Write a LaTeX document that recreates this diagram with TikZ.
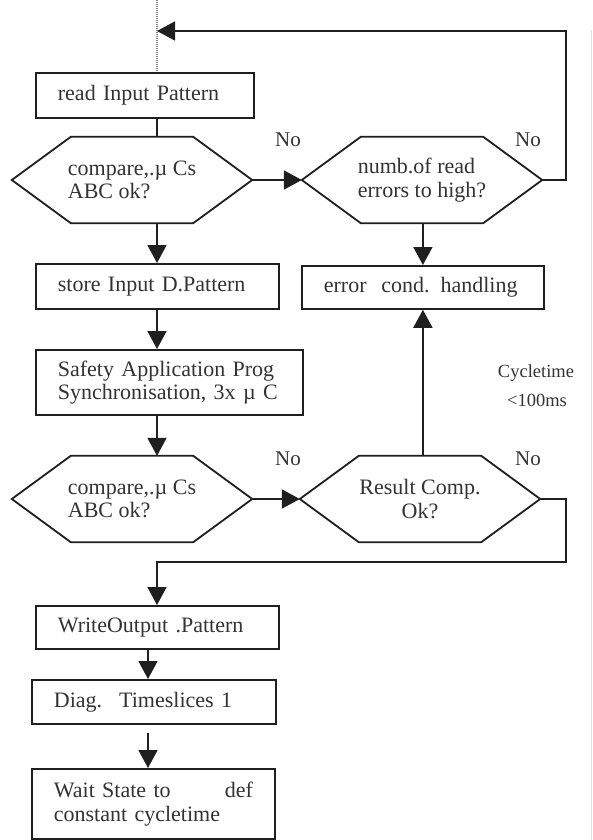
\documentclass[tikz,border=0pt]{standalone}
\usepackage{fontspec}
\setmainfont{Liberation Serif}
\usetikzlibrary{arrows.meta}
\newcommand{\myhexshape}[1]{\draw[ln] (#1.west) -- ([xshift=59pt]#1.north west) -- ([xshift=-59pt]#1.north east) -- (#1.east) -- ([xshift=-59pt]#1.south east) -- ([xshift=59pt]#1.south west) -- cycle;}
\begin{document}
\begin{tikzpicture}[x=1pt,y=-1pt,
  ln/.style={line width=1.8pt, draw=black!88},
  arr/.style={ln, -{Triangle[width=19pt,length=18pt]}},
  txt/.style={text=black!80, font=\fontsize{22pt}{23.5pt}\selectfont},
  box/.style={ln, txt, anchor=north west, align=left, inner xsep=22pt, inner ysep=0pt},
  hexn/.style={txt, minimum width=240pt, minimum height=86pt, inner sep=0pt, align=left},
  lbl/.style={text=black!80, font=\fontsize{21pt}{23pt}\selectfont, inner sep=0pt},
  small/.style={text=black!80, font=\fontsize{18.5pt}{20pt}\selectfont, inner sep=0pt}]
\useasboundingbox (0,0) rectangle (593,840);
\fill[white] (0,0) rectangle (593,840);

% guide coordinates
\coordinate (top) at (157,0);
\coordinate (spine) at (157,0);
\coordinate (spine2) at (148,0);
\coordinate (rx) at (566,0);
\coordinate (entry) at (157,31);
\coordinate (loopy) at (0,562);
\coordinate (d5) at (148,733);
\coordinate (edgeA) at (591,30);
\coordinate (edgeB) at (591,840);

% boxes
\node[box, text width=174pt, minimum height=45pt] (b1) at (35,72) {read Input Pattern};
\node[box, text width=199pt, minimum height=45pt] (b2) at (35,263) {store Input D.Pattern};
\node[box, text width=223pt, minimum height=65pt] (b3) at (35,349) {Safety Application Prog\\Synchronisation, 3x µ C};
\node[box, text width=198pt, minimum height=43pt] (err) at (301,265) {error\ \ cond. handling};
\node[box, text width=199pt, minimum height=43pt] (b4) at (35,605) {WriteOutput .Pattern};
\node[box, text width=200pt, minimum height=44pt] (b5) at (31,679) {Diag.\hspace{17pt}Timeslices 1};
\node[box, text width=199pt, minimum height=70pt] (b6) at (31,768) {Wait State to\hfill def\\constant cycletime};

% hexagons
\node[hexn] (h1) at (132,180) {compare,.µ Cs\\ABC ok?};
\node[hexn] (h2) at (422,180) {numb.of read\\errors to high?};
\node[hexn] (h3) at (132,499) {compare,.µ Cs\\ABC ok?};
\node[hexn, align=center] (h4) at (420,499) {Result Comp.\\Ok?};
\myhexshape{h1}
\myhexshape{h2}
\myhexshape{h3}
\myhexshape{h4}

% labels
\node[lbl] (no1) at (288,140) {No};
\node[lbl] (no2) at (528,140) {No};
\node[lbl] (no3) at (288,459) {No};
\node[lbl] (no4) at (528,459) {No};
\node[small] (cyc) at (536,373) {Cycletime};
\node[small] (ms) at (537,400) {<100ms};

% connectors
\draw[gray, line width=1.5pt, dash pattern=on 1pt off 1pt] (top) -- (b1.north -| top);
\draw[ln] (b1.south -| spine) -- (h1.north -| spine);
\draw[arr] (h1.east) -- (h2.west);
\draw[arr] (h2.east) -- (h2.east -| rx) -- (entry -| rx) -- (entry);
\draw[arr] (h1.south -| spine) -- (b2.north -| spine);
\draw[arr] (b2.south -| spine) -- (b3.north -| spine);
\draw[arr] (b3.south -| spine) -- (h3.north -| spine);
\draw[arr] (h2.south -| err.north) -- (err.north);
\draw[arr] (h3.east) -- (h4.west);
\draw[arr] (h4.north -| err.south) -- (err.south);
\draw[arr] (h4.east) -- (h4.east -| rx) -- (loopy -| rx) -- (loopy -| spine) -- (b4.north -| spine);
\draw[arr] (b4.south -| spine2) -- (b5.north -| spine2);
\draw[arr] (d5) -- (b6.north -| spine2);
\draw[gray!25, line width=1pt] (edgeA) -- (edgeB);
\end{tikzpicture}
\end{document}
